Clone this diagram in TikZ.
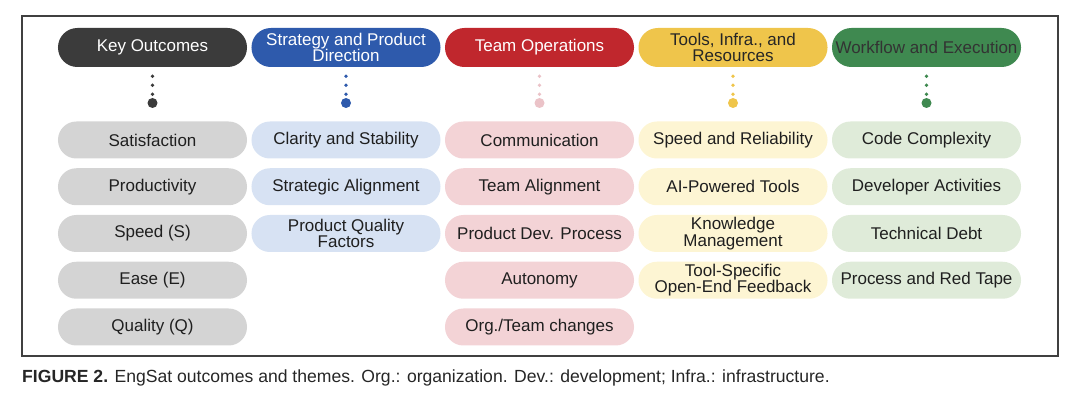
\documentclass[tikz,border=0pt]{standalone}
\usepackage{fontspec}
\setmainfont{Liberation Sans}
\definecolor{koDark}{HTML}{3B3B3B}
\definecolor{spBlue}{HTML}{2E5AAC}
\definecolor{toRed}{HTML}{C0272D}
\definecolor{tiYellow}{HTML}{EFC54B}
\definecolor{weGreen}{HTML}{3F8950}
\definecolor{koLight}{HTML}{D4D4D4}
\definecolor{spLight}{HTML}{D7E2F3}
\definecolor{toLight}{HTML}{F3D3D6}
\definecolor{toDot}{HTML}{EBC3C8}
\definecolor{tiLight}{HTML}{FDF5D3}
\definecolor{weLight}{HTML}{DFEBD9}
\tikzset{
    pill/.style={rectangle, rounded corners=0.55cm, minimum width=5.67cm, minimum height=1.11cm,
        inner sep=1pt, align=center, font=\fontsize{14.5}{14}\selectfont},
    head/.style={pill, minimum height=1.17cm, rounded corners=0.58cm},
    theme/.style={pill, fill=#1, text=black!88},
    bigdot/.style={circle, fill=#1, minimum size=0.3cm, inner sep=0pt},
    dotline/.style={draw=#1, line width=3.2pt, line cap=round, dash pattern=on 0pt off 0.27cm}
}
\begin{document}
\begin{tikzpicture}[x=0.03cm, y=-0.03cm]
    \useasboundingbox (0,0) rectangle (1080,403);
    \draw[black!75, line width=0.9pt] (22,16) rectangle (1058,356);

    % headers
    \node[head, fill=koDark, text=white] (hKO) at (152.5,47.5) {Key Outcomes};
    \node[head, fill=spBlue, text=white] (hSP) at (346,47.5) {Strategy and Product\\Direction};
    \node[head, fill=toRed, text=white] (hTO) at (539.5,47.5) {Team Operations};
    \node[head, fill=tiYellow, text=black!85] (hTI) at (733,47.5) {Tools, Infra., and\\Resources};
    \node[head, fill=weGreen, text=black!80] (hWE) at (926.5,47.5) {Workflow and Execution};

    % dots under the headers
    \node[bigdot=koDark] (dKO) at (152.5,103) {};
    \node[bigdot=spBlue] (dSP) at (346,103) {};
    \node[bigdot=toDot] (dTO) at (539.5,103) {};
    \node[bigdot=tiYellow] (dTI) at (733,103) {};
    \node[bigdot=weGreen] (dWE) at (926.5,103) {};
    \draw[dotline=koDark] ([yshift=-0.27cm]hKO.south) -- (dKO.north);
    \draw[dotline=spBlue] ([yshift=-0.27cm]hSP.south) -- (dSP.north);
    \draw[dotline=toDot] ([yshift=-0.27cm]hTO.south) -- (dTO.north);
    \draw[dotline=tiYellow] ([yshift=-0.27cm]hTI.south) -- (dTI.north);
    \draw[dotline=weGreen] ([yshift=-0.27cm]hWE.south) -- (dWE.north);

    % key outcomes
    \node[theme=koLight] (ko1) at (152.5,140) {Satisfaction};
    \node[theme=koLight] (ko2) at (152.5,186.75) {Productivity};
    \node[theme=koLight] (ko3) at (152.5,233.5) {Speed (S)};
    \node[theme=koLight] (ko4) at (152.5,280.25) {Ease (E)};
    \node[theme=koLight] (ko5) at (152.5,327) {Quality (Q)};

    % strategy and product direction
    \node[theme=spLight] (sp1) at (346,140) {Clarity and Stability};
    \node[theme=spLight] (sp2) at (346,186.75) {Strategic Alignment};
    \node[theme=spLight] (sp3) at (346,233.5) {Product Quality\\Factors};

    % team operations
    \node[theme=toLight] (to1) at (539.5,140) {Communication};
    \node[theme=toLight] (to2) at (539.5,186.75) {Team Alignment};
    \node[theme=toLight] (to3) at (539.5,233.5) {Product Dev. Process};
    \node[theme=toLight] (to4) at (539.5,280.25) {Autonomy};
    \node[theme=toLight] (to5) at (539.5,327) {Org./Team changes};

    % tools, infra., and resources
    \node[theme=tiLight] (ti1) at (733,140) {Speed and Reliability};
    \node[theme=tiLight] (ti2) at (733,186.75) {AI-Powered Tools};
    \node[theme=tiLight] (ti3) at (733,233.5) {Knowledge\\Management};
    \node[theme=tiLight] (ti4) at (733,280.25) {Tool-Specific\\Open-End Feedback};

    % workflow and execution
    \node[theme=weLight] (we1) at (926.5,140) {Code Complexity};
    \node[theme=weLight] (we2) at (926.5,186.75) {Developer Activities};
    \node[theme=weLight] (we3) at (926.5,233.5) {Technical Debt};
    \node[theme=weLight] (we4) at (926.5,280.25) {Process and Red Tape};

    % caption
    \node[anchor=west, inner sep=0pt, font=\fontsize{15}{17}\selectfont, text=black!85] (cap) at (22,378)
        {\textbf{FIGURE 2.} EngSat outcomes and themes. Org.: organization. Dev.: development; Infra.: infrastructure.};
\end{tikzpicture}
\end{document}
